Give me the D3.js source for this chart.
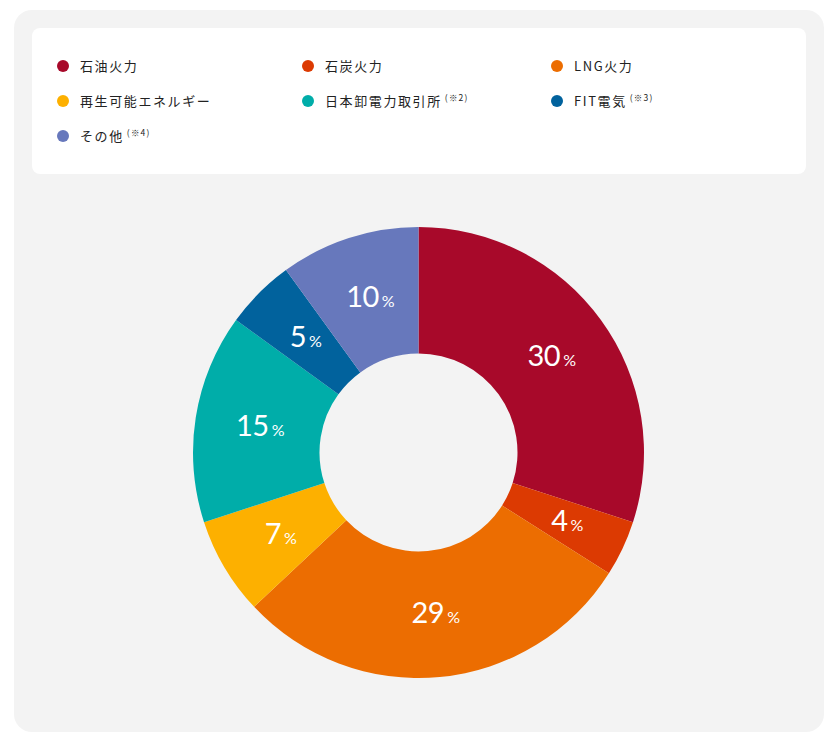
<!DOCTYPE html>
<html>
<head>
<meta charset="utf-8">
<script src="https://cdn.jsdelivr.net/npm/d3@7"></script>
<style>
  body { margin: 0; background: #fff; }
  .legend-text { font-family: "Noto Sans CJK JP", "Noto Sans", sans-serif; font-size: 13px; font-weight: 400; fill: #222; letter-spacing: 1.6px; }
  .legend-note { font-size: 8.5px; letter-spacing: 1.2px; }
  .slice-label { font-family: Lato, "Noto Sans", sans-serif; fill: #fff; }
</style>
</head>
<body>
<div id="chart"></div>
<script>

// categories, shares and colours
var categories = ["石油火力", "石炭火力", "LNG火力", "再生可能エネルギー", "日本卸電力取引所", "FIT電気", "その他"];
var notes = ["", "", "", "", "(※2)", "(※3)", "(※4)"];
var values = [30, 4, 29, 7, 15, 5, 10];
var colors = ["#a8092a", "#dc3a02", "#ec6d01", "#fdb000", "#00ada9", "#01629d", "#6778bc"];

var width = 837, height = 743;

var svg = d3.select("#chart")
  .append("svg")
    .attr("width", width)
    .attr("height", height);

// grey card
svg.append("rect")
  .attr("x", 14).attr("y", 10)
  .attr("width", 810).attr("height", 722)
  .attr("rx", 18)
  .attr("fill", "#f3f3f3");

// white legend box
svg.append("rect")
  .attr("x", 32).attr("y", 28)
  .attr("width", 774).attr("height", 146)
  .attr("rx", 8)
  .attr("fill", "#fff");

// legend, 3 columns
var colX = [63, 308, 557];
var rowY = [66, 101, 136];

var legend = svg.append("g")
  .selectAll("g")
  .data(categories)
  .join("g")
    .attr("transform", function(d, i) {
      return "translate(" + colX[i % 3] + "," + rowY[Math.floor(i / 3)] + ")";
    });

legend.append("circle")
  .attr("r", 6)
  .attr("fill", function(d, i) { return colors[i]; });

var lt = legend.append("text")
  .attr("class", "legend-text")
  .attr("x", 17)
  .attr("y", 4.5);

lt.append("tspan").text(function(d) { return d; });
lt.append("tspan")
  .attr("class", "legend-note")
  .attr("dx", 3)
  .attr("dy", -5)
  .text(function(d, i) { return notes[i]; });

// donut
var cx = 418.5, cy = 452.5;
var outerR = 225.5, innerR = 99;

var pie = d3.pie().sort(null).value(function(d) { return d; });
var arc = d3.arc().innerRadius(innerR).outerRadius(outerR);

var g = svg.append("g")
  .attr("transform", "translate(" + cx + "," + cy + ")");

var arcs = pie(values);

g.selectAll("path")
  .data(arcs)
  .join("path")
    .attr("d", arc)
    .attr("fill", function(d, i) { return colors[i]; });

var labels = g.selectAll("text")
  .data(arcs)
  .join("text")
    .attr("class", "slice-label")
    .attr("text-anchor", "middle")
    .attr("transform", function(d) {
      var c = arc.centroid(d);
      return "translate(" + (c[0] + 2) + "," + (c[1] + 9) + ")";
    });

labels.append("tspan")
  .attr("font-size", 29)
  .attr("letter-spacing", -0.5)
  .text(function(d) { return d.data; });
labels.append("tspan")
  .attr("font-size", 16)
  .attr("dx", 3)
  .text("%");

</script>
</body>
</html>
